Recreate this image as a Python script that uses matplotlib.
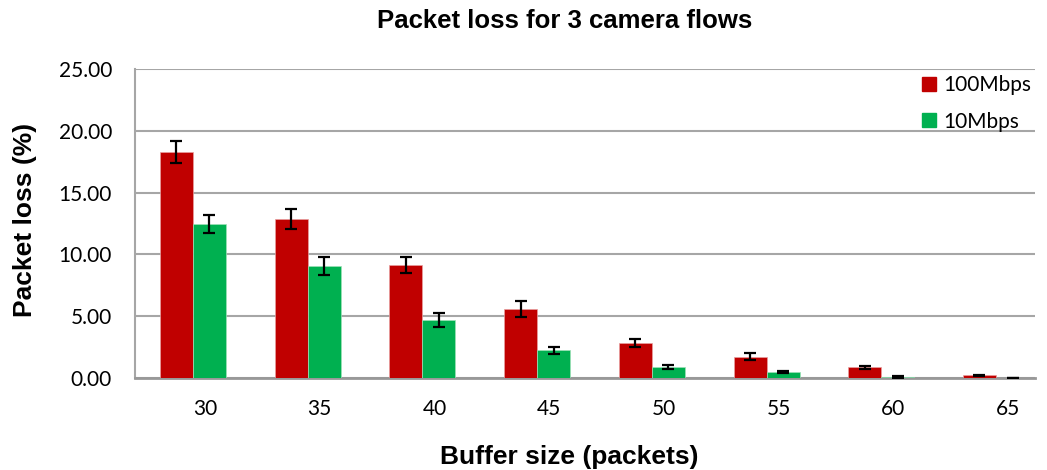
import numpy as np
import matplotlib.pyplot as plt
from matplotlib.patches import Patch

# buffer sizes (packets)
buffers = ['30', '35', '40', '45', '50', '55', '60', '65']

# packet loss (%) and error bar half-widths
loss_100 = [18.30, 12.86, 9.14, 5.61, 2.83, 1.72, 0.86, 0.22]
err_100 = [0.90, 0.80, 0.65, 0.65, 0.35, 0.28, 0.15, 0.05]
loss_10 = [12.46, 9.04, 4.69, 2.24, 0.89, 0.46, 0.08, 0.01]
err_10 = [0.72, 0.72, 0.55, 0.30, 0.15, 0.08, 0.05, 0.01]

RED = '#C00000'
GREEN = '#00B050'
GRID = '#A6A6A6'

plt.rcParams['font.family'] = ['Lato', 'DejaVu Sans']

fig = plt.figure(figsize=(10.47, 4.70), dpi=100)
ax = fig.add_axes([135 / 1047, 1 - 378 / 470, 900 / 1047, 309 / 470])

x = np.arange(len(buffers))
w = 0.288
err_kw = dict(ecolor='black', elinewidth=1.6, capsize=4.3, capthick=1.6)
ax.bar(x - w / 2, loss_100, w, color=RED, edgecolor='#E8A0A0', linewidth=0.5,
       yerr=err_100, error_kw=err_kw, zorder=3)
ax.bar(x + w / 2, loss_10, w, color=GREEN, edgecolor='#A0E0B8', linewidth=0.5,
       yerr=err_10, error_kw=err_kw, zorder=3)

# category spacing is a bit wider than the plot area allows, last group sits near the edge
ax.set_xlim(-0.505, 7.34)
ax.set_ylim(0, 25)
ax.set_yticks(np.arange(0, 26, 5))
ax.set_yticklabels(['%.2f' % v for v in np.arange(0, 26, 5)], fontsize=15)
ax.set_xticks(x + 0.105)
ax.set_xticklabels(buffers, fontsize=15)
ax.tick_params(axis='both', length=0)
ax.tick_params(axis='y', pad=16.5)
ax.tick_params(axis='x', pad=15)

ax.yaxis.grid(True, color=GRID, linewidth=1.5, zorder=0)
ax.set_axisbelow(True)
for s in ['top', 'right']:
    ax.spines[s].set_visible(False)
ax.spines['left'].set_color(GRID)
ax.spines['left'].set_linewidth(1.5)
ax.spines['bottom'].set_color('#989898')
ax.spines['bottom'].set_linewidth(2)

handles = [Patch(color=RED), Patch(color=GREEN)]
fig.legend(handles, ['100Mbps', '10Mbps'], loc='upper left', frameon=False,
           fontsize=15, handlelength=0.67, handleheight=0.67, handletextpad=0.35,
           labelspacing=0.8, borderpad=0, borderaxespad=0,
           bbox_to_anchor=(922 / 1047, 1 - 75 / 470))

fig.text(565 / 1047, 1 - 28.5 / 470, 'Packet loss for 3 camera flows', ha='center', va='baseline',
         fontsize=18.5, fontweight='bold', family='Liberation Sans')
fig.text(569 / 1047, 1 - 457 / 470, 'Buffer size (packets)', ha='center', va='center',
         fontsize=19, fontweight='bold', family='Liberation Sans')
fig.text(25 / 1047, 1 - 220 / 470, 'Packet loss (%)', ha='center', va='center', rotation=90,
         fontsize=19, fontweight='bold', family='Liberation Sans')

fig.savefig('out.png', dpi=100)
